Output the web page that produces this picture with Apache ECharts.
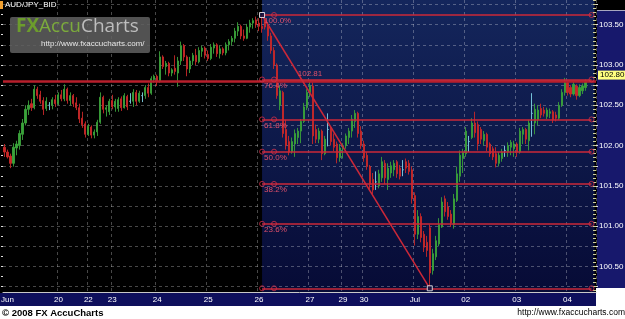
<!DOCTYPE html>
<html><head><meta charset="utf-8">
<script src="https://cdn.jsdelivr.net/npm/echarts@6/dist/echarts.min.js"></script>
<style>html,body{margin:0;padding:0;background:#000;}#c{width:625px;height:319px;}</style>
</head><body><div id="c"></div>
<script>
const symbolName = 'AUD/JPY_BID';
const barCount = 198;
const dayTickIndex = [1, 18, 28, 36, 51, 68, 85, 102, 113, 120, 137, 154, 171, 188];
const dayTickLabel = ['Jun', '20', '22', '23', '24', '25', '26', '27', '29', '30', 'Jul', '02', '03', '04'];
const dayLineIndex = [18, 28, 36, 51, 68, 85, 102, 113, 120, 137, 154, 171, 188];
const priceLabels = [100.5, 101, 101.5, 102, 102.5, 103, 103.5];
const priceGrid = [100.25, 100.5, 100.75, 101, 101.25, 101.5, 101.75, 102, 102.25, 102.5, 102.75, 103, 103.25, 103.5, 103.75];
const priceMin = 100.184, priceMax = 103.806;

// [open, high, low, close]
const ohlc = [
[101.98,102.02,101.86,101.92],[101.92,101.95,101.84,101.86],[101.87,101.90,101.72,101.78],[101.78,102.03,101.74,101.98],
[101.97,102.06,101.88,102.02],[102.00,102.19,101.95,102.15],[102.14,102.33,102.07,102.28],[102.28,102.50,102.25,102.45],
[102.45,102.56,102.38,102.50],[102.52,102.58,102.43,102.47],[102.47,102.75,102.45,102.70],[102.70,102.73,102.58,102.62],
[102.63,102.68,102.52,102.55],[102.56,102.60,102.38,102.45],[102.46,102.60,102.43,102.55],[102.50,102.54,102.44,102.50],
[102.50,102.60,102.45,102.57],[102.57,102.63,102.48,102.52],[102.52,102.66,102.50,102.63],[102.63,102.69,102.55,102.58],
[102.58,102.76,102.55,102.70],[102.70,102.72,102.52,102.56],[102.56,102.66,102.50,102.62],[102.62,102.64,102.48,102.52],
[102.53,102.60,102.44,102.47],[102.47,102.52,102.28,102.33],[102.34,102.42,102.22,102.26],[102.27,102.30,102.10,102.14],
[102.14,102.27,102.12,102.24],[102.23,102.25,102.09,102.13],[102.13,102.20,102.09,102.17],[102.17,102.32,102.12,102.29],
[102.29,102.66,102.27,102.60],[102.60,102.62,102.40,102.45],[102.45,102.50,102.36,102.47],[102.42,102.58,102.38,102.55],
[102.56,102.63,102.45,102.48],[102.48,102.58,102.42,102.55],[102.46,102.60,102.42,102.57],[102.58,102.61,102.43,102.47],
[102.47,102.65,102.46,102.62],[102.61,102.63,102.44,102.48],[102.55,102.65,102.52,102.55],[102.55,102.70,102.48,102.66],
[102.66,102.69,102.50,102.55],[102.55,102.68,102.53,102.65],[102.62,102.66,102.54,102.62],[102.62,102.75,102.58,102.72],
[102.72,102.77,102.60,102.65],[102.65,102.86,102.63,102.83],[102.82,102.88,102.78,102.86],[102.86,102.88,102.74,102.80],
[102.80,103.17,102.78,103.10],[103.10,103.12,102.95,102.98],[102.98,103.05,102.88,103.02],[103.02,103.04,102.86,102.90],
[102.90,102.96,102.86,102.94],[102.96,103.12,102.88,102.92],[102.90,103.10,102.73,103.05],[103.05,103.29,103.00,103.24],
[103.24,103.26,103.05,103.10],[103.10,103.12,102.86,102.95],[102.95,103.10,102.90,103.05],[103.05,103.15,103.00,103.12],
[103.12,103.20,103.00,103.04],[103.04,103.22,103.02,103.18],[103.17,103.24,103.10,103.21],[103.21,103.23,103.08,103.12],
[103.13,103.18,103.05,103.08],[103.08,103.26,103.06,103.22],[103.21,103.28,103.14,103.25],[103.25,103.27,103.10,103.14],
[103.14,103.24,103.08,103.20],[103.20,103.22,103.12,103.15],[103.15,103.28,103.12,103.25],[103.25,103.32,103.18,103.29],
[103.29,103.36,103.24,103.33],[103.33,103.46,103.28,103.42],[103.42,103.53,103.36,103.48],[103.48,103.50,103.32,103.36],
[103.36,103.44,103.30,103.33],[103.33,103.51,103.32,103.47],[103.47,103.56,103.40,103.52],[103.52,103.58,103.45,103.55],
[103.56,103.60,103.46,103.50],[103.52,103.58,103.42,103.48],[103.48,103.62,103.40,103.45],[103.56,103.59,103.44,103.47],
[103.47,103.52,103.30,103.36],[103.36,103.40,103.14,103.18],[103.18,103.22,102.95,103.00],[103.00,103.02,102.58,102.62],
[102.50,102.74,102.44,102.68],[102.66,102.68,102.10,102.15],[102.20,102.32,101.95,102.00],[102.05,102.12,101.88,101.92],
[101.92,102.10,101.90,102.05],[102.02,102.20,101.86,102.15],[102.10,102.22,102.02,102.18],[102.18,102.33,102.03,102.30],
[102.30,102.53,102.28,102.48],[102.47,102.70,102.44,102.66],[102.66,102.81,102.60,102.74],[102.74,102.78,102.02,102.12],
[102.20,102.26,102.03,102.08],[102.08,102.22,102.03,102.18],[102.18,102.20,101.82,101.90],[101.90,102.12,101.88,102.08],
[102.20,102.40,101.99,102.20],[102.22,102.24,102.00,102.05],[102.08,102.15,101.93,101.98],[102.02,102.05,101.78,101.85],
[101.85,102.02,101.80,101.97],[101.96,102.03,101.84,102.00],[102.00,102.15,101.96,102.12],[102.10,102.22,102.02,102.18],
[102.18,102.38,102.10,102.33],[102.30,102.44,102.22,102.40],[102.40,102.42,102.10,102.15],[102.18,102.24,101.96,102.00],
[102.02,102.06,101.80,101.85],[101.88,101.92,101.70,101.74],[101.74,101.76,101.46,101.52],[101.58,101.66,101.40,101.45],
[101.55,101.68,101.45,101.55],[101.50,101.70,101.47,101.65],[101.60,101.86,101.55,101.80],[101.78,101.82,101.52,101.60],
[101.58,101.78,101.45,101.72],[101.66,101.80,101.60,101.75],[101.70,101.82,101.62,101.78],[101.80,101.82,101.60,101.65],
[101.72,101.76,101.58,101.62],[101.70,101.82,101.62,101.70],[101.80,101.84,101.66,101.72],[101.78,101.82,101.64,101.68],
[101.70,101.74,101.28,101.34],[101.38,101.42,100.76,100.90],[100.90,101.20,100.84,101.12],[101.12,101.16,100.80,100.86],
[100.90,100.94,100.68,100.74],[100.80,100.88,100.62,100.70],[100.98,101.02,100.23,100.42],[100.45,100.72,100.40,100.66],
[100.62,100.88,100.58,100.82],[100.78,101.10,100.75,101.02],[100.99,101.36,100.98,101.30],[101.34,101.38,101.12,101.18],
[101.24,101.30,101.08,101.12],[101.15,101.20,100.99,101.04],[101.02,101.40,100.97,101.34],[101.32,101.74,101.30,101.65],
[101.62,101.94,101.55,101.88],[101.84,101.96,101.66,101.92],[101.90,102.23,101.86,102.18],[102.05,102.12,101.92,102.05],
[102.10,102.34,102.08,102.28],[102.28,102.42,102.10,102.16],[102.26,102.30,101.94,102.02],[102.20,102.23,102.02,102.08],
[102.06,102.18,102.00,102.14],[102.14,102.16,101.93,101.98],[102.02,102.04,101.86,101.90],[101.96,101.99,101.82,101.86],
[101.90,101.98,101.73,101.78],[101.78,101.92,101.74,101.88],[101.84,101.96,101.80,101.92],[101.94,102.00,101.86,101.94],
[101.92,102.04,101.86,102.00],[101.98,102.07,101.88,102.04],[101.96,102.06,101.86,102.02],[102.02,102.04,101.86,101.92],
[101.92,102.22,101.90,102.18],[102.14,102.23,102.02,102.20],[102.20,102.22,102.02,102.08],[102.06,102.32,101.94,102.28],
[102.40,102.65,102.11,102.40],[102.28,102.52,102.14,102.45],[102.32,102.50,102.25,102.44],[102.46,102.52,102.34,102.38],
[102.44,102.48,102.36,102.40],[102.36,102.47,102.33,102.44],[102.40,102.46,102.34,102.42],[102.42,102.44,102.28,102.32],
[102.38,102.42,102.30,102.34],[102.34,102.54,102.32,102.50],[102.50,102.70,102.48,102.66],[102.66,102.84,102.62,102.78],
[102.78,102.80,102.62,102.66],[102.72,102.75,102.60,102.64],[102.64,102.80,102.62,102.76],[102.74,102.76,102.57,102.62],
[102.62,102.76,102.60,102.72],[102.68,102.77,102.64,102.74],[102.72,102.82,102.68,102.80]
];
const neutralBars = [15, 42, 46, 108, 124, 133, 155, 167, 176];

const fibLevels = [100, 76.4, 61.8, 50, 38.2, 23.6, 0];
const fibHigh = 103.62, fibLow = 100.23;
const fibHighIndex = 86, fibLowIndex = 142, fibHandleIndex = 90, fibEndIndex = 196;
const swingHigh = 102.81, swingHighIndex = 102;
const lastPrice = 102.80;

const GREEN = '#3aa23a', RED = '#c82828', CYAN = '#7fd3e6', FIB = '#cc2838';
const categories = Array.from({length: barCount}, (_, i) => String(i));
const fibValue = p => fibLow + (fibHigh - fibLow) * p / 100;

const candleData = ohlc.map((d, i) => {
  const v = [d[0], d[3], d[2], d[1]];
  return neutralBars.includes(i)
    ? {value: v, itemStyle: {color: CYAN, color0: CYAN, borderColor: CYAN, borderColor0: CYAN}}
    : v;
});

const rightMinor = [];
for (let v = 100.2; v < priceMax; v += 0.05) rightMinor.push(+v.toFixed(2));
const leftMinor = [];
for (let v = 100.25; v < priceMax; v += 0.125) leftMinor.push(+v.toFixed(3));

const handlePts = [];
fibLevels.forEach(p => {
  const y = fibValue(p);
  handlePts.push([fibHighIndex, y], [fibHandleIndex, y], [fibEndIndex, y]);
});

const chart = echarts.init(document.getElementById('c'), null, {renderer: 'canvas'});
chart.setOption({
  animation: false,
  backgroundColor: '#000',
  textStyle: {fontFamily: 'Liberation Sans'},
  grid: {left: 3, right: 29, top: 0, bottom: 27, containLabel: false, outerBoundsMode: 'none'},
  xAxis: {
    type: 'category', data: categories, boundaryGap: true,
    axisLine: {show: true, lineStyle: {color: '#c8c8c8', width: 1}},
    axisTick: {show: false},
    axisLabel: {
      interval: (i) => dayTickIndex.includes(i),
      formatter: (v, i) => dayTickLabel[dayTickIndex.indexOf(i)] || '',
      color: '#fff', fontSize: 8, margin: 4
    },
    splitLine: {show: true, interval: (i) => dayLineIndex.includes(i),
      lineStyle: {color: 'rgba(255,255,255,0.28)', type: [3, 3], width: 1}}
  },
  yAxis: [
    {
      type: 'value', position: 'right', min: priceMin, max: priceMax,
      axisLine: {show: false},
      axisTick: {show: true, customValues: priceGrid, length: 2, lineStyle: {color: '#ddd'}},
      axisLabel: {customValues: priceLabels, formatter: v => v.toFixed(2), color: '#fff', fontSize: 8, margin: 3},
      splitLine: {show: true, lineStyle: {color: 'rgba(255,255,255,0.28)', type: [3, 3], width: 1}}
    },
    {
      type: 'value', position: 'right', min: priceMin, max: priceMax,
      axisLine: {show: false}, axisLabel: {show: false}, splitLine: {show: false},
      axisTick: {show: true, inside: true, customValues: rightMinor, length: 3, lineStyle: {color: '#cfcf9a'}}
    },
    {
      type: 'value', position: 'left', min: priceMin, max: priceMax,
      axisLine: {show: false}, axisLabel: {show: false}, splitLine: {show: false},
      axisTick: {show: true, customValues: leftMinor, length: 2, lineStyle: {color: '#ddd'}}
    }
  ],
  series: [
    {
      type: 'line', data: [], z: -1, silent: true,
      markArea: {
        silent: true, z: -1,
        itemStyle: {color: {type: 'linear', x: 0, y: 0, x2: 0, y2: 1,
          colorStops: [{offset: 0, color: '#14265c'}, {offset: 1, color: '#070b36'}]}},
        data: [[{xAxis: fibHighIndex}, {xAxis: barCount - 1}]]
      }
    },
    {
      type: 'candlestick', data: candleData, barWidth: 1.6, z: 2,
      itemStyle: {color: GREEN, color0: RED, borderColor: GREEN, borderColor0: RED, borderWidth: 0.9},
      markPoint: {
        symbol: 'circle', symbolSize: 0, silent: true,
        data: [{coord: [swingHighIndex, swingHigh], value: swingHigh}],
        label: {show: true, position: 'top', distance: 2, formatter: p => p.value.toFixed(2),
          color: '#e0506a', fontSize: 8}
      }
    },
    {
      type: 'line', data: [], z: 3, silent: true,
      markLine: {
        silent: true, symbol: ['none', 'none'], z: 3,
        lineStyle: {color: FIB, width: 1.5, type: 'solid'},
        label: {show: false},
        data: [
          {yAxis: lastPrice, lineStyle: {color: '#b81f2c', width: 2.5},
            label: {show: true, position: 'end', distance: 2, offset: [0, -6],
              formatter: () => lastPrice.toFixed(2), color: '#000', backgroundColor: '#ffff80',
              padding: [1, 2, 0, 2], fontSize: 8}},
          [{coord: [fibHighIndex, fibHigh]}, {coord: [fibLowIndex, fibLow]}],
          ...fibLevels.map(p => [
            {coord: [fibHighIndex, fibValue(p)], name: p.toFixed(1) + '%',
              label: {show: p > 0, position: 'insideStartBottom', distance: 2, formatter: q => q.name,
                color: '#e0506a', fontSize: 8}},
            {coord: [fibEndIndex, fibValue(p)]}
          ])
        ]
      }
    },
    {
      type: 'scatter', data: handlePts, z: 4, silent: true, symbol: 'circle', symbolSize: 5,
      itemStyle: {color: 'rgba(0,0,0,0)', borderColor: '#d0304a', borderWidth: 1}
    },
    {
      type: 'scatter', data: [[fibHighIndex, fibHigh], [fibLowIndex, fibLow]], z: 5, silent: true,
      symbol: 'rect', symbolSize: 5,
      itemStyle: {color: '#0a1040', borderColor: '#fff', borderWidth: 1}
    }
  ],
  graphic: [
    {type: 'rect', z: -10, shape: {x: 0, y: 293, width: 596, height: 13}, style: {fill: '#0e0f5c'}},
    {type: 'rect', z: -10, shape: {x: 597, y: 10, width: 28, height: 278}, style: {fill: '#17186c'}},
    {type: 'line', z: -9, shape: {x1: 597, y1: 10.5, x2: 625, y2: 10.5}, style: {stroke: '#a8a8c0', lineWidth: 1}},
    {type: 'rect', z: -10, shape: {x: 0, y: 306, width: 625, height: 13}, style: {fill: '#fff'}},
    {type: 'rect', z: -10, shape: {x: 596, y: 288, width: 29, height: 18}, style: {fill: '#fff'}},
    {type: 'rect', z: 10, shape: {x: 0, y: 1, width: 3, height: 8}, style: {fill: '#f0a030'}},
    {type: 'text', z: 10, x: 5, y: 1, style: {text: symbolName, fill: '#fff', font: '8px "Liberation Sans"', textVerticalAlign: 'top'}},
    {type: 'rect', z: 10, shape: {x: 10, y: 17, width: 140, height: 36, r: 2}, style: {fill: 'rgba(96,96,96,0.85)'}},
    {type: 'text', z: 11, x: 16, y: 17, style: {
      text: '{a|FX}{b|Accu}{c|Charts}', textVerticalAlign: 'top',
      rich: {
        a: {fill: '#6c9c2c', font: 'bold 19px "Open Sans"'},
        b: {fill: '#7cab3c', font: '19px "Open Sans"'},
        c: {fill: '#bdbdbd', font: '19px "Open Sans"'}
      }}},
    {type: 'text', z: 11, x: 41, y: 40, style: {text: 'http://www.fxaccucharts.com/', fill: '#e6e6e6', font: '8px "Liberation Sans"', textVerticalAlign: 'top'}},
    {type: 'text', z: 10, x: 2, y: 308, style: {text: '\u00A9 2008 FX AccuCharts', fill: '#000', font: 'bold 9.5px "Liberation Sans"', textVerticalAlign: 'top'}},
    {type: 'text', z: 10, x: 625, y: 308, style: {text: 'http://www.fxaccucharts.com', fill: '#000', font: '8.5px "Liberation Sans"', textAlign: 'right', textVerticalAlign: 'top'}}
  ]
});
</script></body></html>
